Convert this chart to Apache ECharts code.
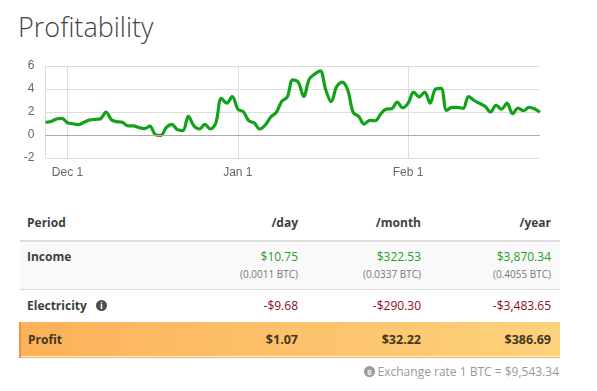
<!DOCTYPE html>
<html>
<head>
<meta charset="utf-8">
<title>Profitability</title>
<script src="https://cdn.jsdelivr.net/npm/echarts@6/dist/echarts.min.js"></script>
<style>
  html, body { margin: 0; padding: 0; background: #fff; }
  body { width: 597px; height: 391px; overflow: hidden; position: relative; font-family: "Open Sans", sans-serif; color: #333; }
  h1 { position: absolute; left: 18px; top: 8px; margin: 0; font-size: 27px; line-height: 38px; font-weight: 300; color: #444; }
  #chart { position: absolute; left: 0; top: 50px; width: 597px; height: 140px; }
  table { position: absolute; left: 19px; top: 205px; width: 540px; border-collapse: collapse; table-layout: fixed; font-size: 12px; }
  th, td { padding: 0 9px 0 8px; text-align: right; vertical-align: top; }
  th:first-child, td:first-child { text-align: left; font-weight: 700; color: #3a3f45; padding-left: 7px; }
  thead th { height: 35px; vertical-align: middle; font-weight: 700; color: #3a3f45; border-bottom: 2px solid #ddd; }
  .income td { height: 48px; background: #f9f9f9; border-bottom: 1px solid #ddd; padding-top: 6px; box-sizing: border-box; }
  .pos { color: #2a9d2a; }
  .neg { color: #8b0a1a; }
  small { display: block; margin-top: 3px; font-size: 10px; line-height: 13px; color: #777; }
  .elec td { height: 33px; box-sizing: border-box; vertical-align: middle; }
  .profit td { height: 35px; box-sizing: border-box; vertical-align: middle; font-weight: 700; font-size: 12.5px; color: #43371f; border-bottom: 1px solid #f3b468; }
  .profit { background: linear-gradient(to right, #fdb15a, #fdd27c); box-shadow: inset 0 -1px 0 #fff0d0; }
  .profit td:first-child { border-left: 2px solid #f0943c; font-size: 12px; }
  .info { display: inline-block; width: 11px; height: 11px; line-height: 11px; margin-left: 6px; border-radius: 50%; background: #4a4f55; color: #fff; font-size: 9px; text-align: center; vertical-align: 1px; }
  #rate { position: absolute; right: 38px; top: 364px; font-size: 12px; line-height: 16px; color: #999; }
  #rate i { display: inline-block; width: 11px; height: 11px; line-height: 11px; margin-right: 3px; border-radius: 50%; background: #999; color: #fff; font-size: 8px; font-style: normal; text-align: center; vertical-align: 1px; }
</style>
</head>
<body>
<h1>Profitability</h1>
<div id="chart"></div>
<table>
  <colgroup><col style="width:150px"><col style="width:137px"><col style="width:123px"><col style="width:130px"></colgroup>
  <thead><tr><th>Period</th><th>/day</th><th>/month</th><th>/year</th></tr></thead>
  <tbody>
    <tr class="income"><td>Income</td>
      <td class="pos">$10.75<small>(0.0011 BTC)</small></td>
      <td class="pos">$322.53<small>(0.0337 BTC)</small></td>
      <td class="pos">$3,870.34<small>(0.4055 BTC)</small></td></tr>
    <tr class="elec"><td>Electricity <span class="info">i</span></td>
      <td class="neg">-$9.68</td><td class="neg">-$290.30</td><td class="neg">-$3,483.65</td></tr>
    <tr class="profit"><td>Profit</td><td>$1.07</td><td>$32.22</td><td>$386.69</td></tr>
  </tbody>
</table>
<div id="rate"><i>฿</i>Exchange rate 1 BTC = $9,543.34</div>
<script>
// one reading per day, Nov 27 to Feb 25
var START_DAY = Date.UTC(2017, 10, 27);
var MONTH_TICKS = ["Dec 1", "Jan 1", "Feb 1"];
var Y_TICKS = [-2, 0, 2, 4, 6];
var profit = [
  1.1, 1.18, 1.39, 1.45, 1.07, 0.98, 0.9, 1.1, 1.3, 1.36, 1.4, 2.0, 1.33, 1.16, 1.1, 0.8,
  0.8, 0.64, 0.55, 0.78, 0.03, -0.03, 0.66, 0.92, 0.46, 0.38, 1.62, 0.8, 0.52, 0.92, 0.52, 1.04,
  3.18, 2.77, 3.35, 2.25, 2.02, 1.24, 1.04, 0.52, 0.87, 1.56, 1.97, 2.92, 3.3,
  4.8, 4.6, 3.35, 4.86, 5.3, 5.58, 3.93, 2.89, 4.22, 4.6, 3.93, 1.97, 1.62, 0.95, 1.27, 1.24,
  1.82, 2.25, 2.28, 2.86, 2.37, 2.77, 3.73, 3.32, 3.73, 2.77, 3.99, 4.05, 2.14, 2.4, 2.4,
  2.31, 3.35, 3.0, 2.75, 2.49, 2.0, 2.57, 2.25, 2.77, 1.85, 2.34, 2.11, 2.4, 2.28, 1.97
];

var MONTHS = ["Jan", "Feb", "Mar", "Apr", "May", "Jun", "Jul", "Aug", "Sep", "Oct", "Nov", "Dec"];
var days = profit.map(function (v, i) {
  var d = new Date(START_DAY + i * 86400000);
  return MONTHS[d.getUTCMonth()] + " " + d.getUTCDate();
});

var chart = echarts.init(document.getElementById("chart"));
chart.setOption({
  animation: false,
  grid: { left: 45.5, right: 57, top: 16, bottom: 32 },
  // the line turns red where profit drops under zero (both pieces need finite
  // bounds, the gradient has no stops otherwise)
  visualMap: {
    show: false,
    seriesIndex: 0,
    dimension: 1,
    pieces: [
      { min: Y_TICKS[0], max: 0, color: "#c0392b" },
      { min: 0, max: Y_TICKS[Y_TICKS.length - 1], color: "#12a21a" }
    ]
  },
  xAxis: {
    type: "category",
    data: days,
    boundaryGap: false,
    axisLine: { show: false },
    axisTick: { show: false },
    axisLabel: {
      interval: function (i, name) { return MONTH_TICKS.indexOf(name) >= 0; },
      color: "#666", fontFamily: "Liberation Sans", fontSize: 12, margin: 9
    },
    splitLine: {
      show: true,
      interval: function (i, name) { return i === 0 || MONTH_TICKS.indexOf(name) >= 0; },
      lineStyle: { color: "#ddd", width: 1 }
    }
  },
  yAxis: {
    type: "value",
    min: Y_TICKS[0],
    max: Y_TICKS[Y_TICKS.length - 1],
    interval: 2,
    axisLine: { show: false },
    axisTick: { show: false },
    axisLabel: { color: "#666", fontFamily: "Liberation Sans", fontSize: 12, margin: 11 },
    splitLine: { lineStyle: { color: "#ddd", width: 1 } }
  },
  series: [{
    type: "line",
    data: profit,
    smooth: 0.35,
    symbol: "none",
    lineStyle: { width: 3.2 },
    markLine: {
      silent: true, symbol: "none", label: { show: false },
      lineStyle: { color: "#aaa", width: 1, type: "solid" },
      data: [{ yAxis: 0 }]
    }
  }]
});
</script>
</body>
</html>
